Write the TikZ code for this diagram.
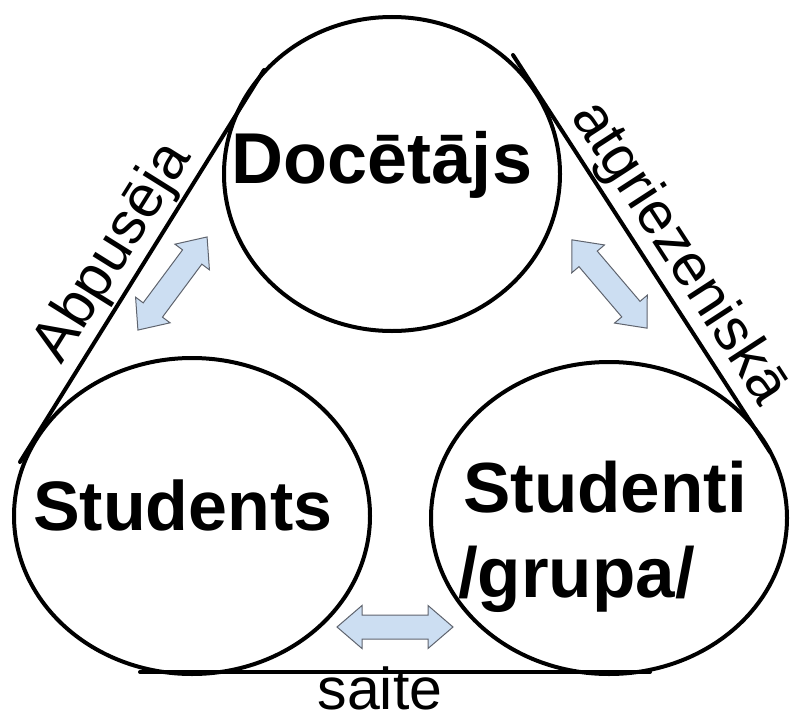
\documentclass[tikz,border=0pt]{standalone}
\usepackage{fontspec}
\setmainfont{Liberation Sans}
\usetikzlibrary{shapes.geometric}
\definecolor{arrowfill}{RGB}{204,222,242}
\definecolor{arrowline}{RGB}{95,100,110}
\tikzset{
  ring/.style={ellipse, draw=black, line width=4pt, inner sep=0pt},
  link/.style={draw=black, line width=4pt, line cap=round},
  bigtext/.style={inner sep=0pt, font=\bfseries\fontsize{71}{80}\selectfont},
  labeltext/.style={inner sep=0pt, font=\fontsize{59}{66}\selectfont},
  arrowstyle/.style={draw=arrowline, fill=arrowfill, line width=1pt, line join=miter},
  dblarrow/.pic={\draw[arrowstyle] (-58,0) -- (-33,21.5) -- (-33,12) -- (33,12) -- (33,21.5) -- (58,0)
      -- (33,-21.5) -- (33,-12) -- (-33,-12) -- (-33,-21.5) -- cycle;}
}
\begin{document}
\begin{tikzpicture}[x=1pt,y=-1pt]
\useasboundingbox (0,0) rectangle (795,717);
% circles
\node[ring, minimum width=336pt, minimum height=314pt] (doc) at (392,174) {};
\node[ring, minimum width=356pt, minimum height=316pt] (stu) at (192,516) {};
\node[ring, minimum width=356pt, minimum height=312pt] (grp) at (609,518) {};
% connecting lines
\coordinate (l1) at (264,70);
\coordinate (l2) at (20,462);
\coordinate (r1) at (513,55);
\coordinate (r2) at (770,452);
\coordinate (b1) at (140,672);
\coordinate (b2) at (650,672);
\draw[link] (l1) -- (l2);
\draw[link] (r1) -- (r2);
\draw[link] (b1) -- (b2);
% texts in circles
\node[bigtext, anchor=base, font=\bfseries\fontsize{72}{80}\selectfont] (tdoc) at (382,183) {Docētājs};
\node[bigtext, anchor=base west, font=\bfseries\fontsize{70}{80}\selectfont] (tstu) at (33,530) {Students};
\node[bigtext, anchor=base west] (tgrp1) at (463,512) {Studenti};
\node[bigtext, anchor=base west] (tgrp2) at (458,597) {/grupa/};
% line labels
\node[labeltext, anchor=south, rotate=58] (lab1) at (137.5,267.5) {Abpusēja};
\node[labeltext, anchor=south, rotate=-57] (lab2) at (655,269) {atgriezeniskā};
\node[labeltext, anchor=base] (lab3) at (380,709) {saite};
% double arrows
\pic[rotate=53.4] (a1) at (172.5,283.5) {dblarrow};
\pic[rotate=-49.6] (a2) at (609.5,284) {dblarrow};
\pic (a3) at (395,627) {dblarrow};
\end{tikzpicture}
\end{document}
